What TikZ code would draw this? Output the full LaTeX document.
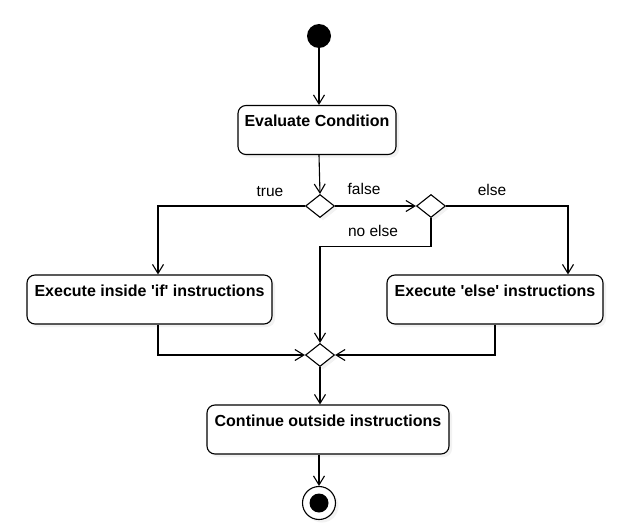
\documentclass[tikz,border=0pt]{standalone}
\usepackage{fontspec}
\setmainfont{Liberation Sans}
\usetikzlibrary{arrows.meta,shapes.geometric,shadows}

\tikzset{
    box/.style={draw, line width=1.1pt, rounded corners=8pt, inner xsep=0pt, inner ysep=0pt,
        text height=21pt, text depth=28pt, font=\fontsize{16}{19}\selectfont\bfseries,
        drop shadow={shadow xshift=3pt, shadow yshift=-3pt, fill=black!10}, fill=white},
    choice/.style={draw, line width=1.1pt, diamond, inner sep=0pt, minimum width=29pt, minimum height=23pt,
        drop shadow={shadow xshift=3pt, shadow yshift=-3pt, fill=black!10}, fill=white},
    guard/.style={font=\fontsize{15.5}{18}\selectfont},
    flow/.style={line width=1.1pt, -{Straight Barb[length=9pt, width=11pt]}}
}

\begin{document}
\begin{tikzpicture}[x=1pt, y=-1pt]
    \useasboundingbox (0,0) rectangle (624,527);
    % start and condition
    \node [circle, fill, inner sep=0pt, minimum size=24pt] (start) at (319,36) {};
    \node [box, minimum width=158pt] (eval) at (317,130) {Evaluate Condition};
    \node [choice] (cond) at (320,206) {};
    \node [choice] (other) at (431,206) {};
    % branches
    \node [box, minimum width=245pt] (ifdo) at (149.5,299.5) {Execute inside \textquotesingle if\textquotesingle{} instructions};
    \node [box, minimum width=216pt] (elsedo) at (495,299.5) {Execute \textquotesingle else\textquotesingle{} instructions};
    \node [choice] (merge) at (320,355) {};
    \node [box, minimum width=242pt] (cont) at (328,429.5) {Continue outside instructions};
    % final node
    \node [circle, draw, line width=1.1pt, fill=white, inner sep=0pt, minimum size=33pt,
        drop shadow={shadow xshift=3pt, shadow yshift=-3pt, fill=black!10}] (stop) at (319,503) {};
    \node [circle, fill, inner sep=0pt, minimum size=19pt] (stopdot) at (stop) {};
    % guards
    \node [guard] (ltrue) at (270,192) {true};
    \node [guard] (lfalse) at (364,189) {false};
    \node [guard] (lelse) at (492,190) {else};
    \node [guard] (lnoelse) at (373,231) {no else};
    % connectors
    \draw[flow] (start) -- (start |- eval.north);
    \draw[flow] (eval.south -| start) -- (cond.north);
    \draw[flow] (cond.west) -| ([xshift=8.5pt]ifdo.north);
    \draw[flow] (cond.east) -- (other.west);
    \draw[flow] (other.east) -| ([xshift=73pt]elsedo.north);
    \draw[flow] (other.south) -- ++(0,28) -| (merge.north);
    \draw[flow] ([xshift=8.5pt]ifdo.south) |- (merge.west);
    \draw[flow] (elsedo.south) |- (merge.east);
    \draw[flow] (merge.south) -- (merge.south |- cont.north);
    \draw[flow] (cont.south -| stop) -- (stop.north);
\end{tikzpicture}
\end{document}
